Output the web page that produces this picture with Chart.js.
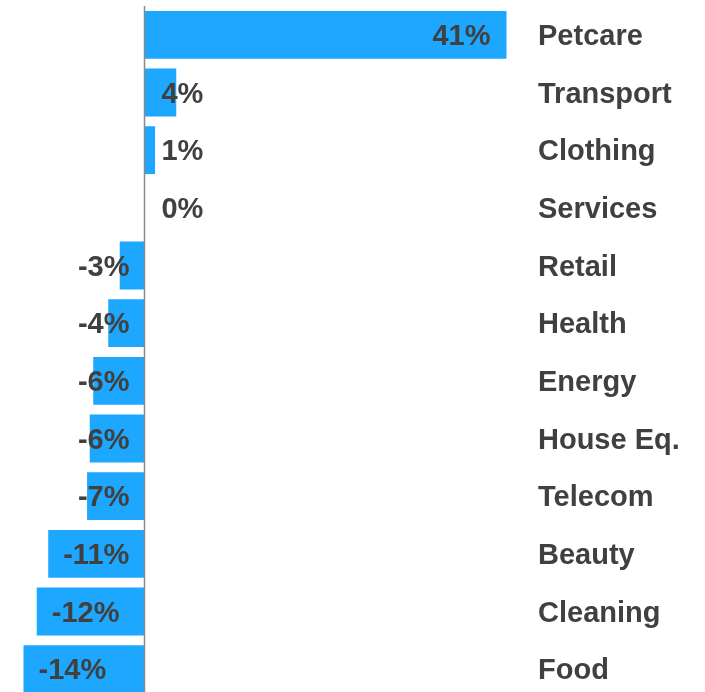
<!DOCTYPE html>
<html>
<head>
<meta charset="utf-8">
<script src="https://cdn.jsdelivr.net/npm/chart.js@4"></script>
<style>
  html, body { margin: 0; padding: 0; background: #fff; overflow: hidden; }
  #wrap { width: 705px; height: 692px; overflow: hidden; }
</style>
</head>
<body>
<div id="wrap"><canvas id="myChart" width="705" height="700"></canvas></div>
<script>
const categories = ['Petcare', 'Transport', 'Clothing', 'Services', 'Retail', 'Health',
  'Energy', 'House Eq.', 'Telecom', 'Beauty', 'Cleaning', 'Food'];
// bar lengths (in %)
const values = [41, 3.6, 1.2, 0, -2.8, -4.1, -5.8, -6.2, -6.5, -10.9, -12.2, -13.7];
// value labels as printed on the chart
const valueLabels = ['41%', '4%', '1%', '0%', '-3%', '-4%', '-6%', '-6%', '-7%', '-11%', '-12%', '-14%'];

const barColor = '#1ea7ff';
const textColor = '#404040';
const labelFont = 'bold 29px "Liberation Sans", Arial, sans-serif';

// zero line, value labels and category names
const labelPlugin = {
    id: 'labels',
    afterDatasetsDraw(chart) {
        const ctx = chart.ctx;
        const area = chart.chartArea;
        const xScale = chart.scales.x;
        const meta = chart.getDatasetMeta(0);
        ctx.save();

        // axis line at 0
        const x0 = Math.round(xScale.getPixelForValue(0)) + 0.5;
        ctx.strokeStyle = '#8a8a8a';
        ctx.lineWidth = 1.5;
        ctx.beginPath();
        ctx.moveTo(x0, area.top);
        ctx.lineTo(x0, area.bottom);
        ctx.stroke();

        ctx.font = labelFont;
        ctx.fillStyle = textColor;
        ctx.textBaseline = 'middle';
        meta.data.forEach((bar, i) => {
            const txt = valueLabels[i];
            const w = ctx.measureText(txt).width;
            const len = Math.abs(bar.x - bar.base);
            const y = bar.y + 2;
            if (values[i] >= 0) {
                if (len > w + 30) {
                    ctx.textAlign = 'right';
                    ctx.fillText(txt, bar.x - 16, y);
                } else {
                    ctx.textAlign = 'left';
                    ctx.fillText(txt, bar.base + 17, y);
                }
            } else {
                if (len > w + 30) {
                    ctx.textAlign = 'left';
                    ctx.fillText(txt, bar.x + 15, y);
                } else {
                    ctx.textAlign = 'right';
                    ctx.fillText(txt, bar.base - 15, y);
                }
            }
            // category name on the right
            ctx.textAlign = 'left';
            ctx.fillText(categories[i], area.right + 8, y);
        });
        ctx.restore();
    }
};

const data = {
    labels: categories,
    datasets: [{
        data: values,
        backgroundColor: barColor,
        borderWidth: 0,
        barPercentage: 0.83,
        categoryPercentage: 1.0,
    }]
};

const config = {
    type: 'bar',
    data: data,
    plugins: [labelPlugin],
    options: {
        indexAxis: 'y',
        responsive: false,
        animation: false,
        layout: { padding: { top: 6, bottom: 2, left: 0, right: 175 } },
        plugins: {
            legend: { display: false },
            tooltip: { enabled: false },
        },
        scales: {
            x: { display: false, min: -16.36, max: 43.66 },
            y: { display: false }
        }
    }
};

const myChart = new Chart(
    document.getElementById('myChart'),
    config
);
</script>
</body>
</html>
